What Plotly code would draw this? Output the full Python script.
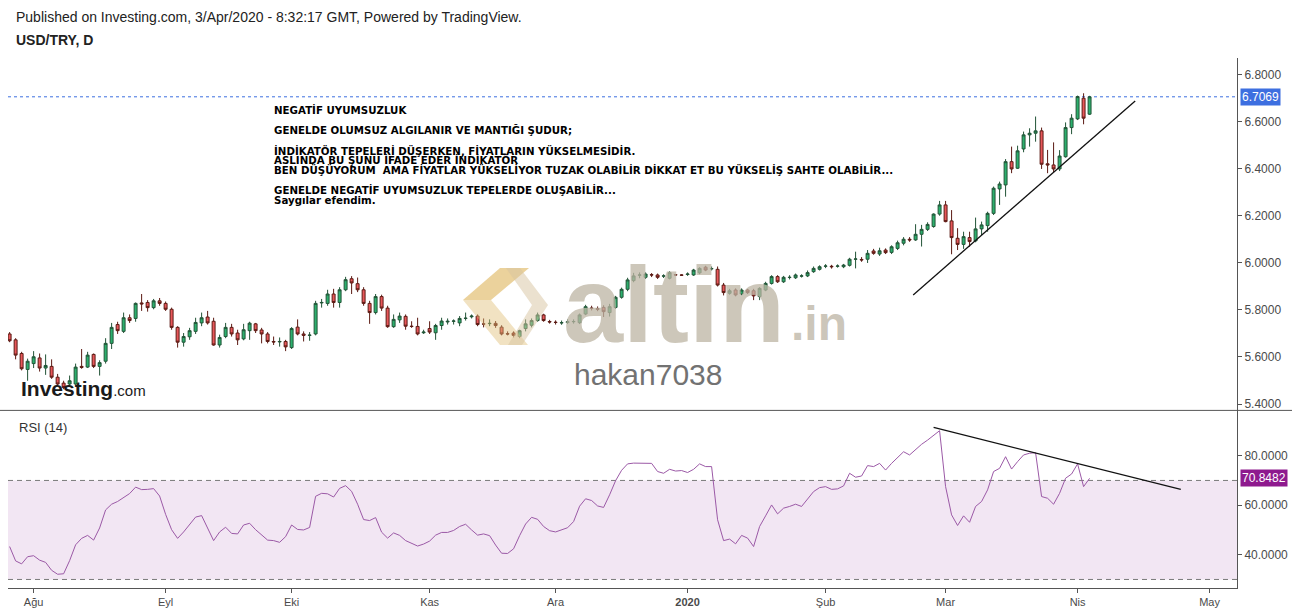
import numpy as np
import pandas as pd
import plotly.graph_objects as go

# ---------------- data ----------------
dates = pd.bdate_range("2019-07-26", "2020-04-03")

open_ = [5.698, 5.673, 5.615, 5.547, 5.572, 5.596, 5.553, 5.560, 5.514, 5.489,
         5.485, 5.485, 5.560, 5.557, 5.611, 5.560, 5.582, 5.658, 5.738, 5.709,
         5.767, 5.764, 5.830, 5.832, 5.810, 5.839, 5.828, 5.803, 5.726, 5.663,
         5.686, 5.709, 5.745, 5.770, 5.752, 5.651, 5.687, 5.726, 5.702, 5.677,
         5.712, 5.741, 5.715, 5.698, 5.666, 5.664, 5.666, 5.640, 5.727, 5.698,
         5.692, 5.698, 5.830, 5.828, 5.868, 5.832, 5.886, 5.933, 5.912, 5.886,
         5.828, 5.789, 5.857, 5.808, 5.729, 5.758, 5.773, 5.731, 5.730, 5.703,
         5.721, 5.703, 5.734, 5.749, 5.752, 5.745, 5.764, 5.771, 5.774, 5.741,
         5.742, 5.743, 5.727, 5.699, 5.702, 5.687, 5.721, 5.735, 5.755, 5.779,
         5.751, 5.748, 5.745, 5.747, 5.750, 5.746, 5.783, 5.808, 5.806, 5.811,
         5.789, 5.811, 5.854, 5.888, 5.925, 5.948, 5.939, 5.950, 5.949, 5.944,
         5.935, 5.950, 5.949, 5.951, 5.949, 5.958, 5.982, 5.975, 5.973, 5.906,
         5.871, 5.885, 5.868, 5.885, 5.882, 5.857, 5.885, 5.913, 5.942, 5.920,
         5.938, 5.937, 5.944, 5.945, 5.963, 5.973, 5.986, 5.986, 5.986, 5.984,
         5.990, 6.016, 6.015, 6.016, 6.051, 6.038, 6.055, 6.045, 6.062, 6.084,
         6.101, 6.098, 6.122, 6.143, 6.155, 6.208, 6.247, 6.179, 6.105, 6.079,
         6.108, 6.094, 6.145, 6.159, 6.211, 6.315, 6.332, 6.431, 6.403, 6.485,
         6.545, 6.552, 6.562, 6.422, 6.417, 6.400, 6.452, 6.576, 6.613, 6.701,
         6.633]
high = [5.706, 5.680, 5.622, 5.593, 5.625, 5.615, 5.611, 5.590, 5.528, 5.499,
        5.521, 5.572, 5.634, 5.622, 5.615, 5.586, 5.680, 5.745, 5.750, 5.789,
        5.781, 5.832, 5.868, 5.842, 5.847, 5.851, 5.836, 5.810, 5.731, 5.702,
        5.724, 5.767, 5.789, 5.796, 5.767, 5.695, 5.745, 5.741, 5.716, 5.741,
        5.750, 5.745, 5.724, 5.706, 5.687, 5.683, 5.673, 5.727, 5.760, 5.709,
        5.706, 5.839, 5.847, 5.886, 5.890, 5.897, 5.941, 5.944, 5.938, 5.897,
        5.839, 5.868, 5.865, 5.818, 5.781, 5.789, 5.781, 5.752, 5.767, 5.716,
        5.752, 5.741, 5.767, 5.764, 5.760, 5.774, 5.789, 5.781, 5.781, 5.764,
        5.760, 5.753, 5.735, 5.709, 5.709, 5.716, 5.760, 5.764, 5.789, 5.784,
        5.758, 5.756, 5.755, 5.760, 5.760, 5.785, 5.822, 5.818, 5.815, 5.820,
        5.826, 5.860, 5.895, 5.937, 5.958, 5.960, 5.960, 5.957, 5.955, 5.952,
        5.965, 5.953, 5.952, 5.960, 5.975, 5.982, 5.988, 5.985, 5.985, 5.915,
        5.890, 5.892, 5.892, 5.890, 5.890, 5.897, 5.920, 5.948, 5.948, 5.945,
        5.948, 5.955, 5.952, 5.968, 5.985, 5.990, 5.995, 5.992, 5.994, 5.996,
        6.022, 6.048, 6.025, 6.055, 6.060, 6.065, 6.062, 6.075, 6.095, 6.110,
        6.110, 6.165, 6.162, 6.173, 6.211, 6.264, 6.264, 6.225, 6.148, 6.133,
        6.133, 6.193, 6.176, 6.218, 6.325, 6.346, 6.442, 6.495, 6.499, 6.559,
        6.573, 6.623, 6.576, 6.481, 6.513, 6.480, 6.598, 6.633, 6.712, 6.722,
        6.711]
low = [5.663, 5.590, 5.543, 5.499, 5.553, 5.538, 5.524, 5.507, 5.478, 5.463,
       5.475, 5.480, 5.550, 5.553, 5.553, 5.521, 5.572, 5.634, 5.698, 5.702,
       5.745, 5.750, 5.796, 5.793, 5.803, 5.818, 5.796, 5.716, 5.640, 5.644,
       5.673, 5.698, 5.731, 5.738, 5.648, 5.640, 5.680, 5.687, 5.651, 5.671,
       5.673, 5.702, 5.658, 5.658, 5.651, 5.644, 5.625, 5.634, 5.692, 5.666,
       5.669, 5.692, 5.810, 5.818, 5.810, 5.810, 5.880, 5.868, 5.876, 5.818,
       5.741, 5.781, 5.796, 5.724, 5.724, 5.745, 5.716, 5.724, 5.692, 5.698,
       5.698, 5.673, 5.716, 5.738, 5.738, 5.731, 5.755, 5.764, 5.731, 5.726,
       5.731, 5.724, 5.692, 5.692, 5.683, 5.680, 5.709, 5.726, 5.750, 5.750,
       5.742, 5.738, 5.737, 5.740, 5.742, 5.740, 5.778, 5.798, 5.795, 5.770,
       5.772, 5.805, 5.848, 5.880, 5.918, 5.935, 5.932, 5.940, 5.932, 5.936,
       5.930, 5.946, 5.945, 5.945, 5.945, 5.952, 5.965, 5.968, 5.900, 5.862,
       5.865, 5.858, 5.862, 5.868, 5.842, 5.842, 5.880, 5.908, 5.915, 5.915,
       5.930, 5.932, 5.938, 5.940, 5.958, 5.968, 5.978, 5.976, 5.980, 5.978,
       5.985, 5.977, 6.005, 6.000, 6.035, 6.030, 6.038, 6.038, 6.055, 6.075,
       6.090, 6.094, 6.070, 6.136, 6.150, 6.201, 6.173, 6.037, 6.055, 6.060,
       6.069, 6.088, 6.119, 6.133, 6.204, 6.247, 6.282, 6.382, 6.400, 6.471,
       6.495, 6.516, 6.400, 6.382, 6.386, 6.391, 6.448, 6.548, 6.608, 6.590,
       6.630]
close = [5.669, 5.608, 5.550, 5.582, 5.601, 5.553, 5.564, 5.514, 5.485, 5.470,
         5.499, 5.557, 5.556, 5.608, 5.560, 5.576, 5.658, 5.726, 5.712, 5.767,
         5.755, 5.828, 5.826, 5.810, 5.839, 5.828, 5.803, 5.726, 5.663, 5.687,
         5.712, 5.747, 5.767, 5.745, 5.651, 5.683, 5.726, 5.698, 5.673, 5.716,
         5.744, 5.712, 5.698, 5.666, 5.664, 5.666, 5.643, 5.721, 5.698, 5.692,
         5.693, 5.828, 5.832, 5.868, 5.832, 5.886, 5.929, 5.915, 5.886, 5.828,
         5.789, 5.857, 5.808, 5.729, 5.760, 5.774, 5.731, 5.730, 5.698, 5.706,
         5.706, 5.734, 5.753, 5.752, 5.753, 5.764, 5.765, 5.774, 5.738, 5.740,
         5.743, 5.734, 5.698, 5.698, 5.692, 5.712, 5.741, 5.755, 5.779, 5.755,
         5.749, 5.747, 5.746, 5.750, 5.751, 5.779, 5.814, 5.807, 5.803, 5.793,
         5.814, 5.854, 5.888, 5.928, 5.945, 5.949, 5.953, 5.949, 5.939, 5.945,
         5.959, 5.949, 5.948, 5.953, 5.970, 5.977, 5.970, 5.976, 5.906, 5.874,
         5.882, 5.864, 5.885, 5.874, 5.860, 5.892, 5.913, 5.942, 5.920, 5.939,
         5.939, 5.949, 5.945, 5.959, 5.977, 5.984, 5.987, 5.984, 5.987, 5.991,
         6.016, 6.017, 6.013, 6.041, 6.041, 6.052, 6.044, 6.069, 6.086, 6.101,
         6.098, 6.122, 6.143, 6.164, 6.208, 6.247, 6.176, 6.108, 6.079, 6.112,
         6.091, 6.145, 6.162, 6.211, 6.318, 6.336, 6.431, 6.400, 6.477, 6.545,
         6.552, 6.562, 6.420, 6.417, 6.400, 6.455, 6.576, 6.616, 6.708, 6.616,
         6.7069]
rsi = [43.3, 37.5, 36.3, 39.2, 39.6, 37.8, 36.9, 33.7, 32.1, 32.3,
       37.6, 44.0, 46.6, 47.8, 45.9, 50.8, 58.1, 60.4, 61.5, 63.0,
       64.7, 67.3, 66.3, 66.4, 66.7, 63.7, 56.3, 50.1, 46.6, 49.2,
       52.0, 55.2, 55.8, 51.0, 45.7, 49.2, 51.1, 48.6, 48.4, 52.0,
       52.7, 50.1, 47.9, 45.9, 45.7, 45.0, 47.3, 52.0, 50.2, 50.0,
       51.0, 63.6, 64.8, 64.6, 63.3, 66.8, 67.9, 65.6, 60.4, 54.2,
       53.8, 55.0, 49.1, 46.7, 48.8, 47.8, 45.7, 44.5, 43.5, 44.3,
       45.5, 47.9, 49.0, 49.0, 49.8, 51.4, 52.3, 50.0, 47.9, 48.4,
       47.7, 43.9, 40.6, 40.5, 42.4, 47.7, 52.4, 55.1, 54.3, 51.4,
       49.7, 49.2, 50.2, 50.9, 53.4, 59.6, 62.6, 61.9, 59.7, 59.1,
       64.2, 69.9, 74.1, 76.7, 77.0, 77.0, 77.2, 76.9, 73.6, 72.9,
       74.5, 73.8, 74.0, 73.2, 74.5, 76.7, 75.6, 75.6, 54.1, 45.7,
       46.3, 44.4, 47.8, 46.7, 43.3, 51.4, 55.7, 60.1, 56.5, 58.8,
       59.5, 60.4, 59.5, 62.4, 65.5, 67.1, 67.5, 66.4, 66.6, 67.8,
       72.9, 71.3, 71.8, 76.0, 75.6, 76.9, 74.2, 76.9, 79.3, 81.6,
       80.3, 82.6, 84.6, 86.3, 88.4, 90.1, 67.5, 56.1, 51.8, 55.7,
       53.1, 59.5, 61.5, 66.2, 73.6, 74.9, 79.6, 74.6, 77.6, 80.3,
       81.0, 81.2, 63.5, 62.8, 60.4, 64.8, 70.9, 72.6, 76.7, 67.5,
       70.8482]

month_starts = ["2019-08-01", "2019-09-02", "2019-10-01", "2019-11-01", "2019-12-02",
                "2020-01-01", "2020-02-03", "2020-03-02", "2020-04-01", "2020-05-01"]
month_labels = ["Ağu", "Eyl", "Eki", "Kas", "Ara", "<b>2020</b>", "Şub", "Mar", "Nis", "May"]
price_ticks = [5.4, 5.6, 5.8, 6.0, 6.2, 6.4, 6.6, 6.8]
rsi_ticks = [40, 60, 80]

# trend lines (trading-day position, value)
price_trend_pos = [150.6, 187.6]
price_trend_val = [5.864, 6.689]
rsi_trend_pos = [154.0, 195.2]
rsi_trend_val = [91.4, 66.4]

last_price = 6.7069
last_rsi = 70.8482

note_lines = [
    "NEGATİF UYUMSUZLUK",
    "GENELDE OLUMSUZ ALGILANIR VE MANTIĞI ŞUDUR;",
    "İNDİKATÖR TEPELERİ DÜŞERKEN, FİYATLARIN YÜKSELMESİDİR.",
    "ASLINDA BU ŞUNU İFADE EDER İNDİKATÖR",
    "BEN DÜŞÜYORUM  AMA FİYATLAR YÜKSELİYOR TUZAK OLABİLİR DİKKAT ET BU YÜKSELİŞ SAHTE OLABİLİR...",
    "GENELDE NEGATİF UYUMSUZLUK TEPELERDE OLUŞABİLİR...",
    "Saygılar efendim.",
]
note_y_px = [110, 130, 150, 160, 170, 190, 200]

# ---------------- layout helpers ----------------
assert len(dates) == len(close) == len(rsi)
pos = np.arange(len(dates))
tick_pos = [len(pd.bdate_range(dates[0], d)) - 1 for d in month_starts]

W, H = 1299, 612
ML, MR, MT, MB = 8, 62, 58, 24
PW, PH = W - ML - MR, H - MT - MB
SPLIT = 177.6 / PH


def px(x):
    return (x - ML) / PW


def py(y):
    return (H - MB - y) / PH


AX = "#555555"
TXT = "#4a4a4a"
FONT = "Liberation Sans, Arial, sans-serif"

fig = go.Figure()

fig.add_trace(go.Candlestick(
    x=pos, open=open_, high=high, low=low, close=close,
    increasing=dict(line=dict(color="#225437", width=1), fillcolor="#2bb06d"),
    decreasing=dict(line=dict(color="#5b1a13", width=1), fillcolor="#e8575a"),
    whiskerwidth=0, showlegend=False, hoverinfo="skip",
    xaxis="x", yaxis="y",
))
fig.add_trace(go.Scatter(
    x=price_trend_pos, y=price_trend_val, mode="lines",
    line=dict(color="#111111", width=1.3), showlegend=False,
    xaxis="x", yaxis="y", hoverinfo="skip",
))
fig.add_trace(go.Scatter(
    x=pos, y=rsi, mode="lines", line=dict(color="#9b59a6", width=1),
    showlegend=False, xaxis="x", yaxis="y2", hoverinfo="skip",
))
fig.add_trace(go.Scatter(
    x=rsi_trend_pos, y=rsi_trend_val, mode="lines",
    line=dict(color="#111111", width=1.3), showlegend=False,
    xaxis="x", yaxis="y2", hoverinfo="skip",
))

shapes = [
    dict(type="rect", xref="paper", yref="y2", x0=0, x1=1, y0=30, y1=70,
         fillcolor="#f2e6f3", line=dict(width=0), layer="below"),
    dict(type="line", xref="paper", yref="y2", x0=0, x1=1, y0=70, y1=70,
         line=dict(color="#7a7a7a", width=1, dash="5px,4px"), layer="below"),
    dict(type="line", xref="paper", yref="y2", x0=0, x1=1, y0=30, y1=30,
         line=dict(color="#7a7a7a", width=1, dash="5px,4px"), layer="below"),
    dict(type="line", xref="paper", yref="y", x0=0, x1=1, y0=last_price, y1=last_price,
         line=dict(color="#3d6fe0", width=1, dash="dot"), layer="below"),
    dict(type="line", xref="paper", yref="paper", x0=px(0), x1=px(1292), y0=SPLIT, y1=SPLIT,
         line=dict(color=AX, width=1)),
]


def poly(pts, color):
    d = "M " + " L ".join(f"{px(a):.5f},{py(b):.5f}" for a, b in pts) + " Z"
    return dict(type="path", xref="paper", yref="paper", path=d,
                fillcolor=color, line=dict(width=0), layer="above")


# altin.in logo mark (watermark)
shapes += [
    poly([(463, 300), (500, 268), (529, 268), (491, 300)], "rgba(222,180,90,0.6)"),
    poly([(463, 300), (491, 300), (528, 345), (500, 345)], "rgba(225,190,120,0.45)"),
    poly([(506, 268), (520, 268), (548, 305), (522, 345), (508, 345), (532, 305)],
         "rgba(215,195,160,0.5)"),
]

annotations = [
    dict(text="Published on Investing.com, 3/Apr/2020 - 8:32:17 GMT, Powered by TradingView.",
         x=px(14), y=py(17), xref="paper", yref="paper", xanchor="left", yanchor="middle",
         showarrow=False, font=dict(family=FONT, size=14, color="#222222")),
    dict(text="<b>USD/TRY, D</b>", x=px(14), y=py(40), xref="paper", yref="paper",
         xanchor="left", yanchor="middle", showarrow=False,
         font=dict(family=FONT, size=14, color="#222222")),
    dict(text="RSI (14)", x=px(17), y=py(427), xref="paper", yref="paper",
         xanchor="left", yanchor="middle", showarrow=False,
         font=dict(family=FONT, size=13, color="#333333")),
    dict(text=f"{last_price:.4f}", x=px(1240), y=last_price, xref="paper", yref="y",
         xanchor="left", yanchor="middle", showarrow=False, bgcolor="#3d6fe0",
         borderpad=1, font=dict(family=FONT, size=12, color="white")),
    dict(text=f"{last_rsi:.4f}", x=px(1240), y=last_rsi, xref="paper", yref="y2",
         xanchor="left", yanchor="middle", showarrow=False, bgcolor="#8e1a8e",
         borderpad=1, font=dict(family=FONT, size=12, color="white")),
    # watermarks
    dict(text="<b>altin</b>", x=px(561), y=py(304), xref="paper", yref="paper",
         xanchor="left", yanchor="middle", showarrow=False,
         font=dict(family=FONT, size=108, color="rgba(188,180,163,0.75)")),
    dict(text="<b>.in</b>", x=px(789), y=py(323), xref="paper", yref="paper",
         xanchor="left", yanchor="middle", showarrow=False,
         font=dict(family=FONT, size=48, color="rgba(188,180,163,0.75)")),
    dict(text="hakan7038", x=px(648), y=py(374), xref="paper", yref="paper",
         xanchor="center", yanchor="middle", showarrow=False,
         font=dict(family=FONT, size=30, color="#727272")),
    dict(text="<b>Investing</b><span style='font-size:15px;font-weight:normal'>.com</span>",
         x=px(19), y=py(388), xref="paper", yref="paper",
         xanchor="left", yanchor="middle", showarrow=False,
         font=dict(family=FONT, size=21, color="#1a1a1a")),
]
for line, ypix in zip(note_lines, note_y_px):
    annotations.append(dict(
        text=f"<b>{line}</b>", x=px(272), y=py(ypix), xref="paper", yref="paper",
        xanchor="left", yanchor="middle", showarrow=False,
        font=dict(family="DejaVu Sans", size=10.25, color="#000000")))

fig.update_layout(
    width=W, height=H,
    margin=dict(l=ML, r=MR, t=MT, b=MB, autoexpand=False),
    paper_bgcolor="white", plot_bgcolor="white",
    showlegend=False,
    shapes=shapes, annotations=annotations,
    xaxis=dict(
        domain=[0, 1], anchor="y2", range=[-0.27, 204.57],
        tickmode="array", tickvals=tick_pos, ticktext=month_labels,
        ticks="outside", ticklen=4, tickcolor=AX,
        showline=True, linecolor=AX, linewidth=1,
        showgrid=False, zeroline=False,
        tickfont=dict(family=FONT, size=11, color=TXT),
        rangeslider=dict(visible=False), fixedrange=True,
    ),
    yaxis=dict(
        domain=[SPLIT, 1], anchor="x", side="right", range=[5.3728, 6.872],
        tickmode="array", tickvals=price_ticks, tickformat=".4f",
        ticks="outside", ticklen=4, tickcolor=AX,
        showline=True, linecolor=AX, linewidth=1,
        showgrid=False, zeroline=False,
        tickfont=dict(family=FONT, size=12, color=TXT),
    ),
    yaxis2=dict(
        domain=[0, SPLIT], anchor="x", side="right", range=[26.55, 98.30],
        tickmode="array", tickvals=rsi_ticks, tickformat=".4f",
        ticks="outside", ticklen=4, tickcolor=AX,
        showline=True, linecolor=AX, linewidth=1,
        showgrid=False, zeroline=False,
        tickfont=dict(family=FONT, size=12, color=TXT),
    ),
)

fig.write_html(
    "out.html",
    config={"displayModeBar": False},
    post_script="document.body.style.margin='0';document.body.style.padding='0';",
)
